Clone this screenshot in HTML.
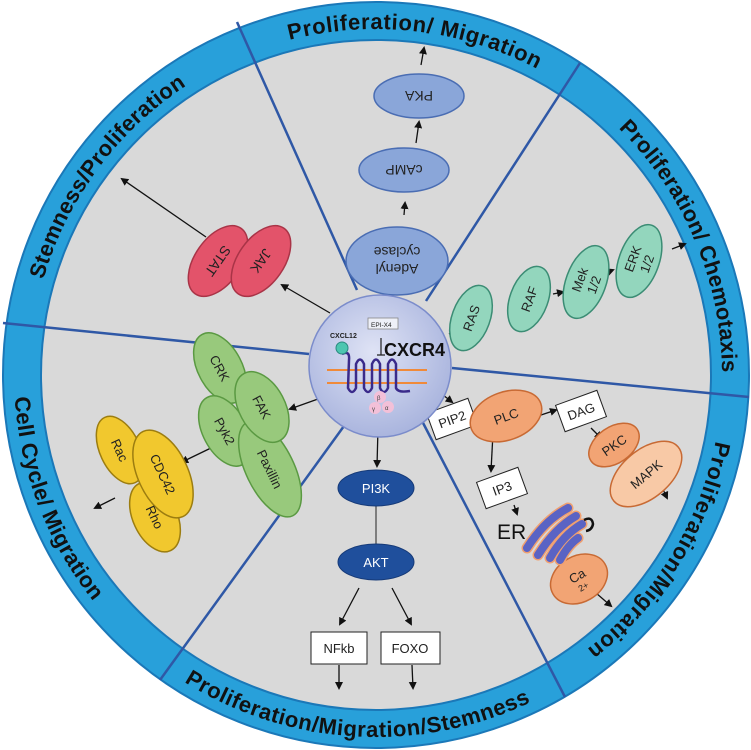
<!DOCTYPE html>
<html><head><meta charset="utf-8"><style>
html,body{margin:0;padding:0;background:#fff;}
svg{display:block;}
text{font-family:"Liberation Sans",sans-serif;}
</style></head><body>
<svg width="751" height="750" viewBox="0 0 751 750" xmlns="http://www.w3.org/2000/svg">
<defs>
<marker id="ah" markerWidth="8" markerHeight="8" refX="6" refY="4" orient="auto" markerUnits="userSpaceOnUse">
<path d="M0,0 L8,4 L0,8 z" fill="#111"/></marker>
<radialGradient id="cg" cx="45%" cy="40%" r="60%"><stop offset="0" stop-color="#dfe3f5"/><stop offset="1" stop-color="#aab5de"/></radialGradient>
<path id="p1" d="M289.4,40.0 A346,346 0 0 1 541.1,71.0"/>
<path id="p2" d="M618.5,128.2 A346,346 0 0 1 722,378"/>
<path id="p3" d="M715.6,441.0 A346,346 0 0 1 584.2,651.3"/>
<path id="p4" d="M43.4,279.6 A346,346 0 0 1 190.1,83.2"/>
<path id="p5" d="M184.2,682.0 A362,362 0 0 0 536.4,699.5"/>
<path id="p6" d="M14.7,397.1 A362,362 0 0 0 96.7,605.3"/>
</defs>
<circle cx="376" cy="375" r="373" fill="#28a0da" stroke="#1b78b8" stroke-width="2"/>
<circle cx="376" cy="375" r="335" fill="#d9d9d9" stroke="#1b78b8" stroke-width="2"/>
<g stroke="#2f58a6" stroke-width="2.5">
<line x1="237" y1="22" x2="357" y2="290"/>
<line x1="580" y1="63" x2="426" y2="301"/>
<line x1="452" y1="368" x2="749" y2="397"/>
<line x1="421" y1="419" x2="565" y2="697"/>
<line x1="344" y1="426" x2="160" y2="680"/>
<line x1="309" y1="354" x2="3" y2="323"/>
</g>
<g font-weight="bold" font-size="22" fill="#111">
<text><textPath href="#p1" textLength="255" lengthAdjust="spacing">Proliferation/ Migration</textPath></text>
<text><textPath href="#p2" textLength="272" lengthAdjust="spacing">Proliferation/ Chemotaxis</textPath></text>
<text><textPath href="#p3" textLength="250" lengthAdjust="spacing">Proliferation/Migration</textPath></text>
<text><textPath href="#p4" textLength="246" lengthAdjust="spacing">Stemness/Proliferation</textPath></text>
<text><textPath href="#p5" textLength="362" lengthAdjust="spacing">Proliferation/Migration/Stemness</textPath></text>
<text><textPath href="#p6" textLength="222" lengthAdjust="spacing">Cell Cycle/ Migration</textPath></text>
</g>

<!-- arrows -->
<g stroke="#111" stroke-width="1.3" fill="none" marker-end="url(#ah)">
<line x1="421" y1="65" x2="424" y2="48"/>
<line x1="416" y1="143" x2="419" y2="122"/>
<line x1="404" y1="215" x2="405" y2="203"/>
<line x1="392" y1="296" x2="393" y2="286"/>
<line x1="330" y1="313" x2="282" y2="285"/>
<line x1="206" y1="237" x2="122" y2="179"/>
<line x1="449" y1="334" x2="456" y2="330"/>
<line x1="508" y1="316" x2="519" y2="313"/>
<line x1="553" y1="294" x2="563" y2="292"/>
<line x1="605" y1="273" x2="613" y2="270"/>
<line x1="672" y1="249" x2="685" y2="244"/>
<line x1="443" y1="395" x2="452" y2="402"/>
<line x1="538" y1="416" x2="556" y2="410"/>
<line x1="493" y1="433" x2="491" y2="471"/>
<line x1="591" y1="428" x2="601" y2="438"/>
<line x1="624" y1="452" x2="637" y2="465"/>
<line x1="660" y1="483" x2="667" y2="498"/>
<line x1="514" y1="505" x2="517" y2="514"/>
<line x1="596" y1="593" x2="611" y2="606"/>
<line x1="378" y1="428" x2="377" y2="466"/>
<line x1="359" y1="588" x2="340" y2="624"/>
<line x1="392" y1="588" x2="411" y2="624"/>
<line x1="339" y1="665" x2="339" y2="688"/>
<line x1="412" y1="665" x2="413" y2="688"/>
<line x1="318" y1="399" x2="290" y2="409"/>
<line x1="213" y1="447" x2="182" y2="462"/>
<line x1="115" y1="498" x2="95" y2="508"/>
</g>

<!-- cAMP pathway -->
<g fill="#8aa6d9" stroke="#4a6db3" stroke-width="1.5">
<ellipse cx="419" cy="96" rx="45" ry="22"/>
<ellipse cx="404" cy="170" rx="45" ry="22"/>
<ellipse cx="397" cy="261" rx="51" ry="34"/>
</g>
<g font-size="14" fill="#222" text-anchor="middle">
<text transform="translate(419,96) rotate(180)" y="5">PKA</text>
<text transform="translate(404,170) rotate(180)" y="5">cAMP</text>
<text transform="translate(397,261) rotate(180)" y="-3">Adenyl</text>
<text transform="translate(397,261) rotate(180)" y="14">cyclase</text>
</g>

<!-- JAK/STAT -->
<g fill="#e3536a" stroke="#a93447" stroke-width="1.5">
<ellipse transform="translate(218,261) rotate(-55)" rx="40" ry="23"/>
<ellipse transform="translate(261,261) rotate(-55)" rx="40" ry="23"/>
</g>
<g font-size="14" fill="#222" text-anchor="middle">
<text transform="translate(218,261) rotate(125)" y="5">STAT</text>
<text transform="translate(261,261) rotate(125)" y="5">JAK</text>
</g>

<!-- RAS pathway -->
<g fill="#93d6bd" stroke="#3b8c74" stroke-width="1.5">
<ellipse transform="translate(471,318) rotate(-70)" rx="34" ry="19"/>
<ellipse transform="translate(529,299) rotate(-70)" rx="34" ry="19"/>
<ellipse transform="translate(586,282) rotate(-70)" rx="38" ry="20"/>
<ellipse transform="translate(639,261) rotate(-70)" rx="38" ry="20"/>
</g>
<g font-size="13" fill="#222" text-anchor="middle">
<text transform="translate(471,318) rotate(-70)" y="5">RAS</text>
<text transform="translate(529,299) rotate(-70)" y="5">RAF</text>
<text transform="translate(586,282) rotate(-70)" y="-2">Mek</text>
<text transform="translate(586,282) rotate(-70)" y="13">1/2</text>
<text transform="translate(639,261) rotate(-70)" y="-2">ERK</text>
<text transform="translate(639,261) rotate(-70)" y="13">1/2</text>
</g>

<!-- PLC pathway -->
<g fill="#fff" stroke="#222" stroke-width="1">
<rect transform="translate(452,419) rotate(-20)" x="-22" y="-14" width="44" height="28"/>
<rect transform="translate(581,411) rotate(-20)" x="-22" y="-14" width="44" height="28"/>
<rect transform="translate(502,488) rotate(-20)" x="-22" y="-14" width="44" height="28"/>
</g>
<g fill="#f2a474" stroke="#c86a34" stroke-width="1.5">
<ellipse transform="translate(506,416) rotate(-20)" rx="37" ry="24"/>
<ellipse transform="translate(614,445) rotate(-35)" rx="28" ry="18"/>
<ellipse transform="translate(579,579) rotate(-30)" rx="30" ry="23"/>
</g>
<ellipse transform="translate(646,474) rotate(-40)" rx="42" ry="24" fill="#f8c9a6" stroke="#c86a34" stroke-width="1.5"/>
<g font-size="13" fill="#222" text-anchor="middle">
<text transform="translate(452,419) rotate(-20)" y="5">PIP2</text>
<text transform="translate(581,411) rotate(-20)" y="5">DAG</text>
<text transform="translate(502,488) rotate(-20)" y="5">IP3</text>
<text transform="translate(506,416) rotate(-20)" y="5">PLC</text>
<text transform="translate(614,445) rotate(-35)" y="5">PKC</text>
<text transform="translate(646,474) rotate(-40)" y="5">MAPK</text>
<text transform="translate(579,579) rotate(-30)" y="1">Ca</text>
<text transform="translate(579,579) rotate(-30)" y="12" font-size="9">2+</text>
</g>
<text x="497" y="539" font-size="21" fill="#111">ER</text>
<g stroke-linecap="round" fill="none">
<g stroke="#f0a070" stroke-width="11">
<path d="M527,548 Q545,520 568,508"/><path d="M538,555 Q555,528 576,516"/>
<path d="M550,558 Q563,535 582,524"/><path d="M560,560 Q568,545 578,538"/>
</g>
<g stroke="#5a63c4" stroke-width="8">
<path d="M527,548 Q545,520 568,508"/><path d="M538,555 Q555,528 576,516"/>
<path d="M550,558 Q563,535 582,524"/><path d="M560,560 Q568,545 578,538"/>
</g>
</g>
<path d="M584,520 Q592,516 593,524 Q592,530 586,531" fill="none" stroke="#111" stroke-width="2.5"/>

<!-- PI3K -->
<line x1="376" y1="505" x2="376" y2="545" stroke="#222" stroke-width="1"/>
<ellipse cx="376" cy="488" rx="38" ry="18" fill="#1f4f9c" stroke="#163a78"/>
<ellipse cx="376" cy="562" rx="38" ry="18" fill="#1f4f9c" stroke="#163a78"/>
<text x="376" y="493" font-size="13" fill="#fff" text-anchor="middle">PI3K</text>
<text x="376" y="567" font-size="13" fill="#fff" text-anchor="middle">AKT</text>
<rect x="311" y="632" width="56" height="32" fill="#fff" stroke="#222"/>
<rect x="381" y="632" width="59" height="32" fill="#fff" stroke="#222"/>
<text x="339" y="653" font-size="13" text-anchor="middle" fill="#222">NFkb</text>
<text x="410" y="653" font-size="13" text-anchor="middle" fill="#222">FOXO</text>

<!-- FAK cluster -->
<g fill="#98c97c" stroke="#5a9942" stroke-width="1.5">
<ellipse transform="translate(220,368) rotate(62)" rx="38" ry="22"/>
<ellipse transform="translate(225,431) rotate(62)" rx="38" ry="22"/>
<ellipse transform="translate(270,469) rotate(64)" rx="52" ry="24"/>
<ellipse transform="translate(262,407) rotate(62)" rx="38" ry="23"/>
</g>
<g font-size="13" fill="#222" text-anchor="middle">
<text transform="translate(220,368) rotate(62)" y="5">CRK</text>
<text transform="translate(262,407) rotate(62)" y="5">FAK</text>
<text transform="translate(225,431) rotate(62)" y="5">Pyk2</text>
<text transform="translate(270,469) rotate(64)" y="5">Paxillin</text>
</g>

<!-- Rac/CDC42/Rho -->
<g fill="#f1c82e" stroke="#9c7d10" stroke-width="1.5">
<ellipse transform="translate(120,450) rotate(65)" rx="36" ry="20"/>
<ellipse transform="translate(155,517) rotate(65)" rx="37" ry="22"/>
<ellipse transform="translate(163,474) rotate(65)" rx="47" ry="25"/>
</g>
<g font-size="13" fill="#222" text-anchor="middle">
<text transform="translate(120,450) rotate(65)" y="5">Rac</text>
<text transform="translate(163,474) rotate(65)" y="5">CDC42</text>
<text transform="translate(155,517) rotate(65)" y="5">Rho</text>
</g>

<!-- CXCR4 -->
<circle cx="380" cy="366" r="71" fill="url(#cg)" stroke="#7b8ccb" stroke-width="1.5"/>
<line x1="327" y1="370" x2="427" y2="370" stroke="#f08a3a" stroke-width="2"/>
<line x1="327" y1="383" x2="427" y2="383" stroke="#f08a3a" stroke-width="2"/>
<path d="M342,354 Q350,350 349,360 L348,388 Q352,396 356,388 L356,364 Q360,355 364,364 L364,388 Q368,396 372,388 L372,364 Q376,355 380,364 L380,388 Q384,396 388,388 L388,364 Q392,355 396,364 L396,388 Q398,393 410,391" fill="none" stroke="#3a2a8a" stroke-width="2.5"/>
<circle cx="342" cy="348" r="6" fill="#4cc6b0" stroke="#2a8a80"/>
<text x="330" y="338" font-size="7" font-weight="bold" fill="#222">CXCL12</text>
<rect x="368" y="318" width="30" height="11" fill="#eef0f8" stroke="#888" stroke-width="0.8"/>
<text x="371" y="327" font-size="6.5" fill="#222">EPI-X4</text>
<path d="M381,338 L381,355 M377,355 L385,355" stroke="#222" stroke-width="1.2"/>
<text x="384" y="356" font-size="18" font-weight="bold" fill="#111">CXCR4</text>
<g fill="#f3c0d8"><circle cx="380" cy="397" r="6"/><circle cx="375" cy="408" r="6"/><circle cx="388" cy="407" r="6"/></g>
<text x="377" y="400" font-size="6" fill="#444">β</text>
<text x="372" y="411" font-size="6" fill="#444">γ</text>
<text x="385" y="410" font-size="6" fill="#444">α</text>
</svg>
</body></html>
